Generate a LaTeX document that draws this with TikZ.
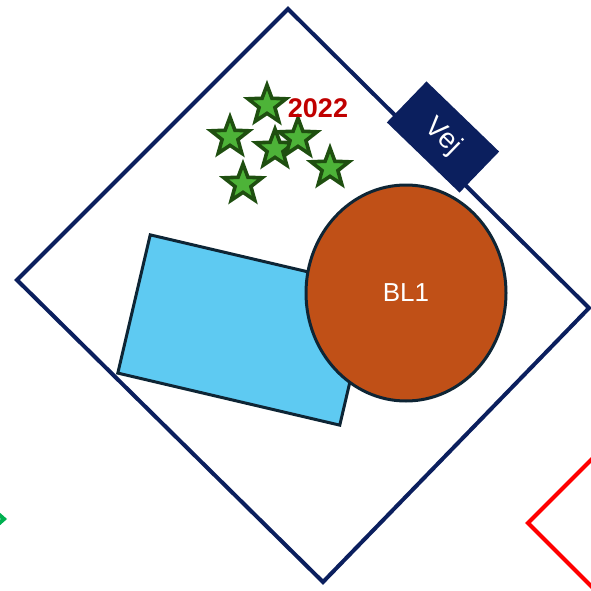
\documentclass[tikz,border=0pt]{standalone}
\usepackage{fontspec}
\setmainfont{Liberation Sans}
\usetikzlibrary{shapes.geometric, positioning}
\definecolor{marine}{HTML}{0B1F5E}
\definecolor{himmel}{HTML}{5ECAF2}
\definecolor{rost}{HTML}{C05017}
\definecolor{kant}{HTML}{0E2535}
\definecolor{laub}{HTML}{1F4F10}
\definecolor{gras}{HTML}{4DB338}
\definecolor{aarrot}{HTML}{C00000}
\definecolor{nachbar}{HTML}{00B050}

\begin{document}
\begin{tikzpicture}[x=1pt, y=-1pt,
        tree/.style={star, star points=5, star point ratio=2.4, minimum size=40pt,
                     inner sep=0pt, draw=laub, line width=3.6pt, fill=gras},
        grund/.style={draw=marine, line width=4pt, line join=miter}
      ]
      \useasboundingbox (0,0) rectangle (590,591);
      % neighbours
      \draw[line width=4pt, nachbar] (-30,489) -- (4,519) -- (-30,549);
      \draw[line width=4pt, red] (600,451) -- (528,523) -- (600,595);
      % plot
      \draw[grund] (288,9) -- (589,308) -- (323,582) -- (17,280) -- cycle;
      % buildings
      \node[draw=kant, line width=3pt, fill=himmel, rectangle, rotate=-13.2,
            minimum width=228pt, minimum height=142pt] (hus) at (245,330) {};
      \node[ellipse, draw=kant, line width=3pt, fill=rost, minimum width=200pt,
            minimum height=216pt, font=\fontsize{26}{30}\selectfont, text=white]
        (bl1) at (406,293) {BL1};
      % road
      \node[fill=marine, rotate=-44, minimum width=101pt, minimum height=57pt,
            inner sep=0pt, font=\fontsize{28}{30}\selectfont, text=white] (vej) at (443,137) {Vej};
      % trees
      \node[tree] (t1) at (267,105) {};
      \node[tree] (t2) at (230,137) {};
      \node[tree] (t3) at (275,149) {};
      \node[tree] (t4) at (298,138) {};
      \node[tree] (t5) at (330,168) {};
      \node[tree] (t6) at (243,184) {};
      \node[font=\bfseries\fontsize{27}{30}\selectfont, text=aarrot] (aar) at (318,108) {2022};
    \end{tikzpicture}
\end{document}
